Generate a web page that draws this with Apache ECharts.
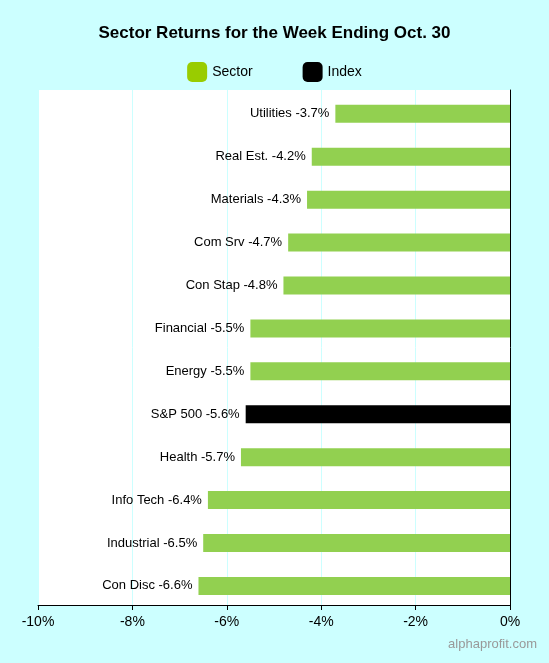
<!DOCTYPE html>
<html><head><meta charset="utf-8">
<script src="https://cdn.jsdelivr.net/npm/echarts@6/dist/echarts.min.js"></script>
<style>html,body{margin:0;padding:0;background:#ccffff}#c{width:549px;height:663px}</style>
</head><body><div id="c"></div>
<script>
const categories = ["Utilities","Real Est.","Materials","Com Srv","Con Stap","Financial","Energy","S&P 500","Health","Info Tech","Industrial","Con Disc"];
const values = [-3.7,-4.2,-4.3,-4.7,-4.8,-5.5,-5.5,-5.6,-5.7,-6.4,-6.5,-6.6];
const indexName = "S&P 500";
const xTicks = [-10,-8,-6,-4,-2,0];
const chart = echarts.init(document.getElementById('c'));
const font = 'Liberation Sans, Arial, sans-serif';
chart.setOption({
  backgroundColor:'#ccffff',
  animation:false,
  title:{text:'Sector Returns for the Week Ending Oct. 30',left:'center',top:20,textStyle:{fontFamily:font,fontSize:17,fontWeight:'bold',color:'#000'}},
  legend:{top:57,left:'center',itemWidth:20,itemHeight:20,itemGap:50,textStyle:{fontFamily:font,fontSize:14,color:'#000'},
    data:[{name:'Sector',itemStyle:{color:'#99cc00'}},{name:'Index',itemStyle:{color:'#000'}}]},
  graphic:[{type:'text',right:12,bottom:12,style:{text:'alphaprofit.com',fontFamily:font,fontSize:13,fill:'#999'}}],
  grid:{left:38,right:39,top:90,bottom:58,backgroundColor:'#fff',show:true,borderWidth:0},
  xAxis:{type:'value',min:-10,max:0,interval:2,
    axisLine:{show:true,lineStyle:{color:'#000'}},axisTick:{show:true,length:5,lineStyle:{color:'#000'}},
    axisLabel:{fontFamily:font,fontSize:14,color:'#000',margin:10,formatter:v=>xTicks.includes(v)?v+'%':''},
    splitLine:{show:true,lineStyle:{color:'#ccffff'}}},
  yAxis:{type:'category',data:categories,inverse:true,position:'right',
    axisLine:{show:true,lineStyle:{color:'#000'}},axisTick:{show:false},axisLabel:{show:false}},
  series:[
    {name:'Sector',type:'bar',barWidth:18,barGap:'-100%',
     data:values.map((v,i)=>({value:v,itemStyle:{color:categories[i]===indexName?'#000':'#92d050'}})),
     label:{show:true,position:'left',distance:6,fontFamily:font,fontSize:13,color:'#000',
       formatter:p=>p.name+' '+p.value+'%'}},
    {name:'Index',type:'bar',data:[]}
  ]
});
</script></body></html>
